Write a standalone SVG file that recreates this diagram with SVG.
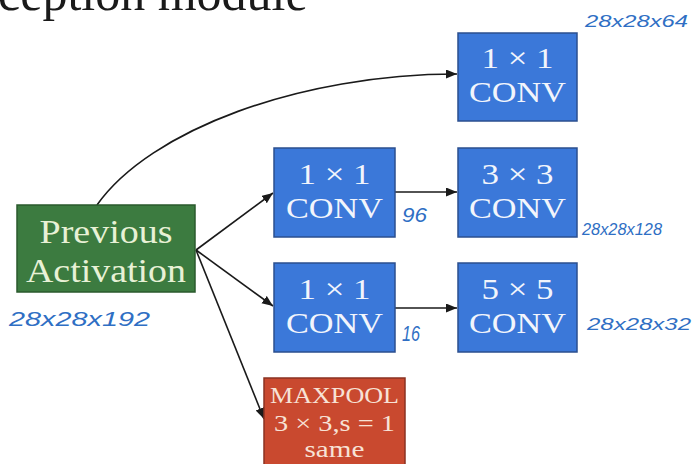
<svg xmlns="http://www.w3.org/2000/svg" width="693" height="464" viewBox="0 0 693 464">
<defs>
<marker id="ah" markerUnits="userSpaceOnUse" markerWidth="12" markerHeight="10" refX="11" refY="4.5" orient="auto">
<path d="M0,0 L11,4.5 L0,9 z" fill="#1a1a1a"/>
</marker>
</defs>
<style>
.blue{fill:#3b78d9;stroke:#2b4f8f;stroke-width:1.5}
.green{fill:#3c7b40;stroke:#2a5a2d;stroke-width:1.5}
.red{fill:#c9492f;stroke:#8a3222;stroke-width:1.5}
.t{font-family:"Liberation Serif","DejaVu Serif",serif;text-anchor:middle}
.bt{fill:#f2f5fc;font-size:30px}
.gt{fill:#e8f1d6;font-size:34px}
.rt{fill:#f7e2d6;font-size:24px}
.hw{font-family:"Liberation Sans","DejaVu Sans",sans-serif;fill:#2f6fc4;font-style:italic}
.c{fill:none;stroke:#1a1a1a;stroke-width:1.6;marker-end:url(#ah)}
</style>
<rect width="693" height="464" fill="#ffffff"/>
<text x="-2" y="10" font-family="Liberation Serif, DejaVu Serif, serif" font-size="50" fill="#1a1a1a">ception module</text>
<g id="connectors">
<path class="c" d="M97,205 C150,130 300,74 457,74"/>
<path class="c" d="M196,250 L273,193"/>
<path class="c" d="M196,250 L273,306"/>
<path class="c" d="M196,250 L264,419"/>
<path class="c" d="M395,192 L457,192"/>
<path class="c" d="M395,308 L457,308"/>
</g>
<g id="prev">
<rect class="green" x="17" y="205" width="178" height="87"/>
<text class="t gt" x="106" y="243" textLength="133" lengthAdjust="spacingAndGlyphs">Previous</text>
<text class="t gt" x="106" y="282" textLength="160" lengthAdjust="spacingAndGlyphs">Activation</text>
</g>
<g id="conv1a">
<rect class="blue" x="458" y="33" width="119" height="88"/>
<text class="t bt" x="517.5" y="68" textLength="72" lengthAdjust="spacingAndGlyphs">1 × 1</text>
<text class="t bt" x="517.5" y="102" textLength="97" lengthAdjust="spacingAndGlyphs">CONV</text>
</g>
<g id="conv1b">
<rect class="blue" x="274" y="148" width="121" height="89"/>
<text class="t bt" x="334.5" y="184" textLength="72" lengthAdjust="spacingAndGlyphs">1 × 1</text>
<text class="t bt" x="334.5" y="218" textLength="97" lengthAdjust="spacingAndGlyphs">CONV</text>
</g>
<g id="conv3">
<rect class="blue" x="458" y="148" width="119" height="89"/>
<text class="t bt" x="517.5" y="184" textLength="72" lengthAdjust="spacingAndGlyphs">3 × 3</text>
<text class="t bt" x="517.5" y="218" textLength="97" lengthAdjust="spacingAndGlyphs">CONV</text>
</g>
<g id="conv1c">
<rect class="blue" x="274" y="263" width="121" height="89"/>
<text class="t bt" x="334.5" y="299" textLength="72" lengthAdjust="spacingAndGlyphs">1 × 1</text>
<text class="t bt" x="334.5" y="333" textLength="97" lengthAdjust="spacingAndGlyphs">CONV</text>
</g>
<g id="conv5">
<rect class="blue" x="458" y="263" width="119" height="89"/>
<text class="t bt" x="517.5" y="299" textLength="72" lengthAdjust="spacingAndGlyphs">5 × 5</text>
<text class="t bt" x="517.5" y="333" textLength="97" lengthAdjust="spacingAndGlyphs">CONV</text>
</g>
<g id="maxpool">
<rect class="red" x="264" y="378" width="141" height="90"/>
<text class="t rt" x="334.5" y="403" textLength="129" lengthAdjust="spacingAndGlyphs">MAXPOOL</text>
<text class="t rt" x="334.5" y="431" textLength="121" lengthAdjust="spacingAndGlyphs">3 × 3,s = 1</text>
<text class="t rt" x="334.5" y="457" textLength="60" lengthAdjust="spacingAndGlyphs">same</text>
</g>
<g id="annotations">
<text class="hw" x="585" y="27" font-size="16" textLength="103" lengthAdjust="spacingAndGlyphs">28x28x64</text>
<text class="hw" x="402" y="222" font-size="21" textLength="25" lengthAdjust="spacingAndGlyphs">96</text>
<text class="hw" x="582" y="235" font-size="17" textLength="80" lengthAdjust="spacingAndGlyphs">28x28x128</text>
<text class="hw" x="402" y="341" font-size="22" textLength="18" lengthAdjust="spacingAndGlyphs">16</text>
<text class="hw" x="587" y="330" font-size="17" textLength="104" lengthAdjust="spacingAndGlyphs">28x28x32</text>
<text class="hw" x="9" y="326" font-size="21" textLength="141" lengthAdjust="spacingAndGlyphs">28x28x192</text>
</g>
</svg>
